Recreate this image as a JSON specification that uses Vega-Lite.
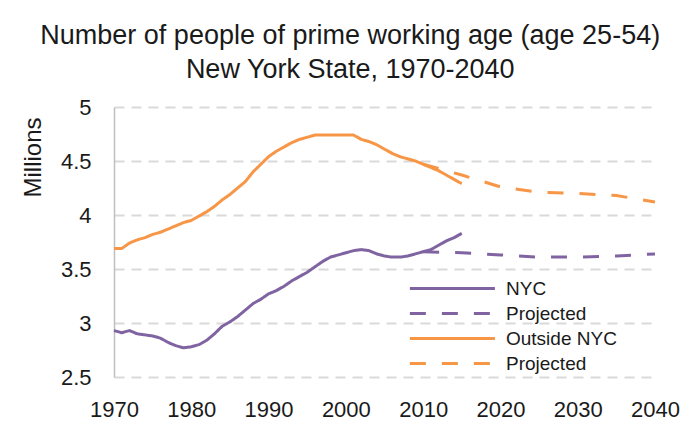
{
  "$schema": "https://vega.github.io/schema/vega-lite/v6.json",
  "width": 541,
  "height": 270,
  "autosize": {"type": "none"},
  "padding": {"left": 114, "top": 107, "right": 34, "bottom": 58},
  "background": "white",
  "title": {
    "text": ["Number of people of prime working age (age 25-54)", "New York State, 1970-2040"],
    "font": "Liberation Sans",
    "fontSize": 27,
    "fontWeight": "normal",
    "color": "#1a1a1a",
    "lineHeight": 34,
    "anchor": "middle",
    "frame": "bounds",
    "offset": 12
  },
  "data": {
    "values": [
      {"year": 1970, "value": 2.93, "series": "NYC"},
      {"year": 1971, "value": 2.91, "series": "NYC"},
      {"year": 1972, "value": 2.93, "series": "NYC"},
      {"year": 1973, "value": 2.90, "series": "NYC"},
      {"year": 1974, "value": 2.89, "series": "NYC"},
      {"year": 1975, "value": 2.88, "series": "NYC"},
      {"year": 1976, "value": 2.86, "series": "NYC"},
      {"year": 1977, "value": 2.82, "series": "NYC"},
      {"year": 1978, "value": 2.79, "series": "NYC"},
      {"year": 1979, "value": 2.77, "series": "NYC"},
      {"year": 1980, "value": 2.78, "series": "NYC"},
      {"year": 1981, "value": 2.80, "series": "NYC"},
      {"year": 1982, "value": 2.84, "series": "NYC"},
      {"year": 1983, "value": 2.90, "series": "NYC"},
      {"year": 1984, "value": 2.97, "series": "NYC"},
      {"year": 1985, "value": 3.01, "series": "NYC"},
      {"year": 1986, "value": 3.06, "series": "NYC"},
      {"year": 1987, "value": 3.12, "series": "NYC"},
      {"year": 1988, "value": 3.18, "series": "NYC"},
      {"year": 1989, "value": 3.22, "series": "NYC"},
      {"year": 1990, "value": 3.27, "series": "NYC"},
      {"year": 1991, "value": 3.30, "series": "NYC"},
      {"year": 1992, "value": 3.34, "series": "NYC"},
      {"year": 1993, "value": 3.39, "series": "NYC"},
      {"year": 1994, "value": 3.43, "series": "NYC"},
      {"year": 1995, "value": 3.47, "series": "NYC"},
      {"year": 1996, "value": 3.52, "series": "NYC"},
      {"year": 1997, "value": 3.57, "series": "NYC"},
      {"year": 1998, "value": 3.61, "series": "NYC"},
      {"year": 1999, "value": 3.63, "series": "NYC"},
      {"year": 2000, "value": 3.65, "series": "NYC"},
      {"year": 2001, "value": 3.67, "series": "NYC"},
      {"year": 2002, "value": 3.68, "series": "NYC"},
      {"year": 2003, "value": 3.67, "series": "NYC"},
      {"year": 2004, "value": 3.64, "series": "NYC"},
      {"year": 2005, "value": 3.62, "series": "NYC"},
      {"year": 2006, "value": 3.61, "series": "NYC"},
      {"year": 2007, "value": 3.61, "series": "NYC"},
      {"year": 2008, "value": 3.62, "series": "NYC"},
      {"year": 2009, "value": 3.64, "series": "NYC"},
      {"year": 2010, "value": 3.66, "series": "NYC"},
      {"year": 2011, "value": 3.68, "series": "NYC"},
      {"year": 2012, "value": 3.72, "series": "NYC"},
      {"year": 2013, "value": 3.76, "series": "NYC"},
      {"year": 2014, "value": 3.79, "series": "NYC"},
      {"year": 2015, "value": 3.83, "series": "NYC"},
      {"year": 2010, "value": 3.66, "series": "NYC projected"},
      {"year": 2015, "value": 3.65, "series": "NYC projected"},
      {"year": 2020, "value": 3.63, "series": "NYC projected"},
      {"year": 2025, "value": 3.61, "series": "NYC projected"},
      {"year": 2030, "value": 3.61, "series": "NYC projected"},
      {"year": 2035, "value": 3.62, "series": "NYC projected"},
      {"year": 2040, "value": 3.64, "series": "NYC projected"},
      {"year": 1970, "value": 3.69, "series": "Outside NYC"},
      {"year": 1971, "value": 3.69, "series": "Outside NYC"},
      {"year": 1972, "value": 3.74, "series": "Outside NYC"},
      {"year": 1973, "value": 3.77, "series": "Outside NYC"},
      {"year": 1974, "value": 3.79, "series": "Outside NYC"},
      {"year": 1975, "value": 3.82, "series": "Outside NYC"},
      {"year": 1976, "value": 3.84, "series": "Outside NYC"},
      {"year": 1977, "value": 3.87, "series": "Outside NYC"},
      {"year": 1978, "value": 3.90, "series": "Outside NYC"},
      {"year": 1979, "value": 3.93, "series": "Outside NYC"},
      {"year": 1980, "value": 3.95, "series": "Outside NYC"},
      {"year": 1981, "value": 3.99, "series": "Outside NYC"},
      {"year": 1982, "value": 4.03, "series": "Outside NYC"},
      {"year": 1983, "value": 4.08, "series": "Outside NYC"},
      {"year": 1984, "value": 4.14, "series": "Outside NYC"},
      {"year": 1985, "value": 4.19, "series": "Outside NYC"},
      {"year": 1986, "value": 4.25, "series": "Outside NYC"},
      {"year": 1987, "value": 4.31, "series": "Outside NYC"},
      {"year": 1988, "value": 4.40, "series": "Outside NYC"},
      {"year": 1989, "value": 4.47, "series": "Outside NYC"},
      {"year": 1990, "value": 4.54, "series": "Outside NYC"},
      {"year": 1991, "value": 4.59, "series": "Outside NYC"},
      {"year": 1992, "value": 4.63, "series": "Outside NYC"},
      {"year": 1993, "value": 4.67, "series": "Outside NYC"},
      {"year": 1994, "value": 4.70, "series": "Outside NYC"},
      {"year": 1995, "value": 4.72, "series": "Outside NYC"},
      {"year": 1996, "value": 4.74, "series": "Outside NYC"},
      {"year": 1997, "value": 4.74, "series": "Outside NYC"},
      {"year": 1998, "value": 4.74, "series": "Outside NYC"},
      {"year": 1999, "value": 4.74, "series": "Outside NYC"},
      {"year": 2000, "value": 4.74, "series": "Outside NYC"},
      {"year": 2001, "value": 4.74, "series": "Outside NYC"},
      {"year": 2002, "value": 4.70, "series": "Outside NYC"},
      {"year": 2003, "value": 4.68, "series": "Outside NYC"},
      {"year": 2004, "value": 4.65, "series": "Outside NYC"},
      {"year": 2005, "value": 4.61, "series": "Outside NYC"},
      {"year": 2006, "value": 4.57, "series": "Outside NYC"},
      {"year": 2007, "value": 4.54, "series": "Outside NYC"},
      {"year": 2008, "value": 4.52, "series": "Outside NYC"},
      {"year": 2009, "value": 4.50, "series": "Outside NYC"},
      {"year": 2010, "value": 4.47, "series": "Outside NYC"},
      {"year": 2011, "value": 4.44, "series": "Outside NYC"},
      {"year": 2012, "value": 4.41, "series": "Outside NYC"},
      {"year": 2013, "value": 4.37, "series": "Outside NYC"},
      {"year": 2014, "value": 4.33, "series": "Outside NYC"},
      {"year": 2015, "value": 4.29, "series": "Outside NYC"},
      {"year": 2010, "value": 4.47, "series": "Outside NYC projected"},
      {"year": 2015, "value": 4.37, "series": "Outside NYC projected"},
      {"year": 2020, "value": 4.26, "series": "Outside NYC projected"},
      {"year": 2025, "value": 4.21, "series": "Outside NYC projected"},
      {"year": 2030, "value": 4.20, "series": "Outside NYC projected"},
      {"year": 2035, "value": 4.18, "series": "Outside NYC projected"},
      {"year": 2040, "value": 4.12, "series": "Outside NYC projected"}
    ]
  },
  "mark": {"type": "line", "strokeWidth": 3, "strokeCap": "butt"},
  "encoding": {
    "x": {
      "field": "year",
      "type": "quantitative",
      "scale": {"domain": [1970, 2040], "nice": false, "zero": false},
      "axis": {
        "values": [1970, 1980, 1990, 2000, 2010, 2020, 2030, 2040],
        "format": "d",
        "title": null,
        "grid": false,
        "domain": false,
        "ticks": false,
        "labelPadding": 22,
        "labelFont": "Liberation Sans",
        "labelFontSize": 22,
        "labelColor": "#1a1a1a",
        "labelFlush": false
      }
    },
    "y": {
      "field": "value",
      "type": "quantitative",
      "scale": {"domain": [2.5, 5], "nice": false, "zero": false},
      "axis": {
        "values": [2.5, 3, 3.5, 4, 4.5, 5],
        "format": "~g",
        "title": "Millions",
        "titleFont": "Liberation Sans",
        "titleFontSize": 24,
        "titleFontWeight": "normal",
        "titleColor": "#1a1a1a",
        "titleAngle": -90,
        "titleX": -81,
        "titleY": 10,
        "titleAlign": "right",
        "titleBaseline": "middle",
        "grid": true,
        "gridColor": "#d9d9d9",
        "gridDash": [10, 7],
        "gridWidth": 2,
        "domain": true,
        "domainColor": "#bfbfbf",
        "domainWidth": 1.5,
        "ticks": false,
        "labelPadding": 23,
        "labelFont": "Liberation Sans",
        "labelFontSize": 22,
        "labelColor": "#1a1a1a"
      }
    },
    "color": {
      "field": "series",
      "type": "nominal",
      "scale": {
        "domain": ["NYC", "NYC projected", "Outside NYC", "Outside NYC projected"],
        "range": ["#8064A2", "#8064A2", "#F79646", "#F79646"]
      },
      "legend": {
        "title": null,
        "orient": "none",
        "legendX": 294,
        "legendY": 169,
        "symbolType": "M-1,0H7",
        "symbolSize": 452,
        "symbolStrokeWidth": 3,
        "labelOffset": 73,
        "rowPadding": 2,
        "labelFont": "Liberation Sans",
        "labelFontSize": 19,
        "labelColor": "#1a1a1a",
        "labelLimit": 300,
        "labelExpr": "indexof(datum.label, 'projected') >= 0 ? 'Projected' : datum.label"
      }
    },
    "strokeDash": {
      "field": "series",
      "type": "nominal",
      "scale": {
        "domain": ["NYC", "NYC projected", "Outside NYC", "Outside NYC projected"],
        "range": [[1, 0], [16, 16], [1, 0], [16, 16]]
      },
      "legend": {
        "title": null,
        "orient": "none",
        "legendX": 294,
        "legendY": 169,
        "symbolType": "M-1,0H7",
        "symbolSize": 452,
        "symbolStrokeWidth": 3,
        "labelOffset": 73,
        "rowPadding": 2,
        "labelFont": "Liberation Sans",
        "labelFontSize": 19,
        "labelColor": "#1a1a1a",
        "labelLimit": 300,
        "labelExpr": "indexof(datum.label, 'projected') >= 0 ? 'Projected' : datum.label"
      }
    }
  },
  "config": {
    "view": {"stroke": null}
  }
}
